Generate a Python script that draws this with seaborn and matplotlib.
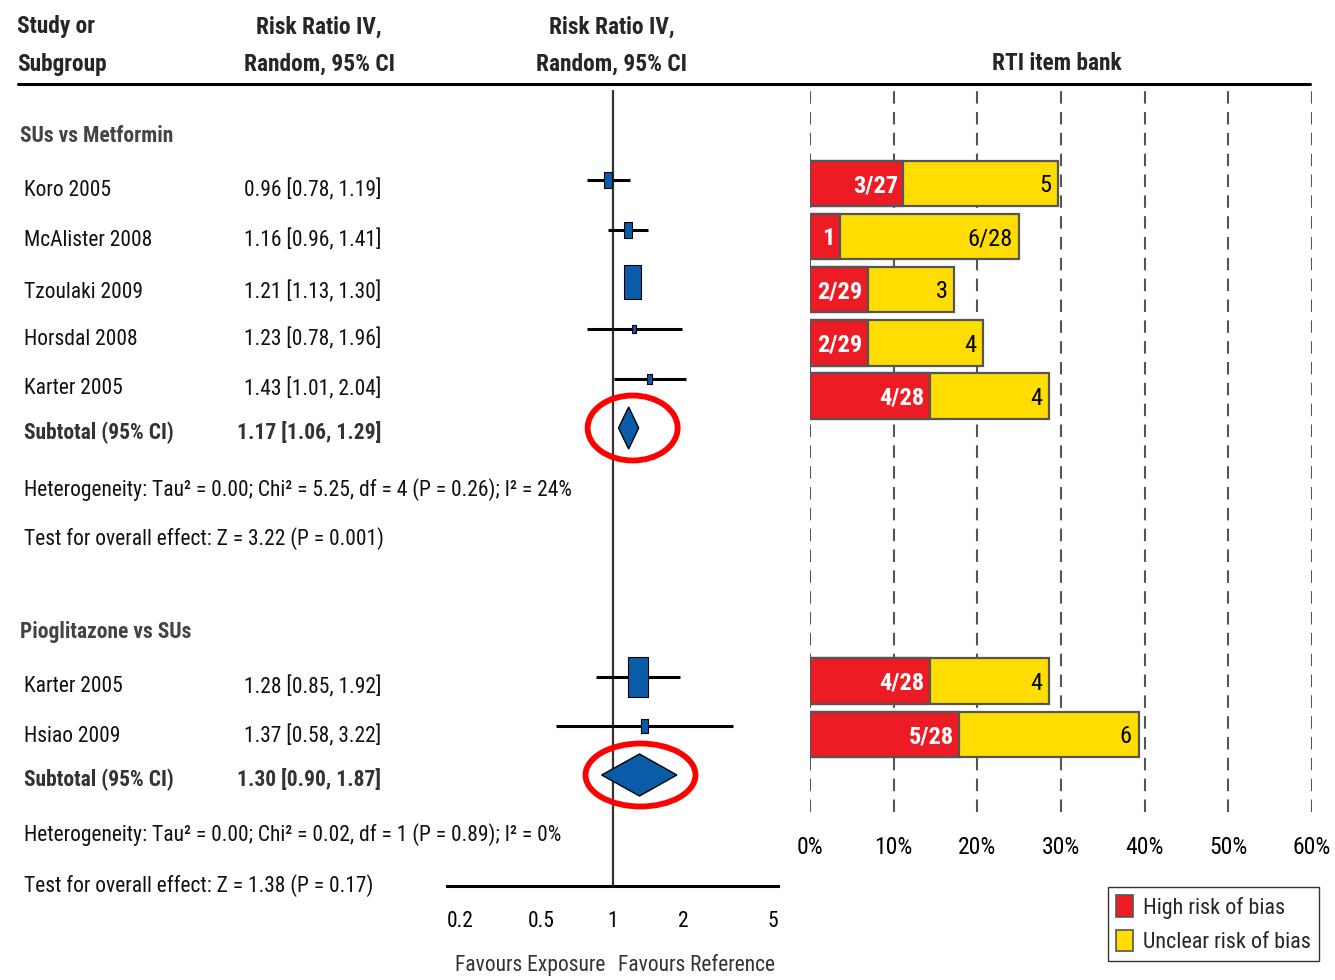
import os
import matplotlib
matplotlib.use("Agg")
import matplotlib.pyplot as plt
from matplotlib import font_manager
from matplotlib.font_manager import FontProperties
from matplotlib.path import Path
from matplotlib.patches import Ellipse, Patch, Polygon
from matplotlib.lines import Line2D
from matplotlib.transforms import ScaledTranslation, Affine2D
import numpy as np
import pandas as pd
import seaborn as sns

# ---------------------------------------------------------------- data
group_titles = ["SUs vs Metformin", "Pioglitazone vs SUs"]
study_group = [0, 0, 0, 0, 0, 1, 1]
studies = ["Koro 2005", "McAlister 2008", "Tzoulaki 2009", "Horsdal 2008",
           "Karter 2005", "Karter 2005", "Hsiao 2009"]
rr = [0.96, 1.16, 1.21, 1.23, 1.43, 1.28, 1.37]
rr_lo = [0.78, 0.96, 1.13, 0.78, 1.01, 0.85, 0.58]
rr_hi = [1.19, 1.41, 1.30, 1.96, 2.04, 1.92, 3.22]
weight_pct = [14, 13, 63, 4, 6, 89, 11]

subtotal_rr = [1.17, 1.30]
subtotal_lo = [1.06, 0.90]
subtotal_hi = [1.29, 1.87]
heterogeneity = [
    "Heterogeneity: Tau² = 0.00; Chi² = 5.25, df = 4 (P = 0.26); I² = 24%",
    "Heterogeneity: Tau² = 0.00; Chi² = 0.02, df = 1 (P = 0.89); I² = 0%",
]
overall_effect = [
    "Test for overall effect: Z = 3.22 (P = 0.001)",
    "Test for overall effect: Z = 1.38 (P = 0.17)",
]
rr_ticks = [0.2, 0.5, 1, 2, 5]
rr_tick_labels = ["0.2", "0.5", "1", "2", "5"]

# RTI item bank: items rated high / unclear risk out of the items applicable
n_items = [27, 28, 29, 29, 28, 28, 28]
n_high = [3, 1, 2, 2, 4, 4, 5]
n_unclear = [5, 6, 3, 4, 4, 4, 6]
high_labels = ["3/27", "1", "2/29", "2/29", "4/28", "4/28", "5/28"]
unclear_labels = ["5", "6/28", "3", "4", "4", "4", "6"]
pct_ticks = [0, 10, 20, 30, 40, 50, 60]

# ---------------------------------------------------------------- fonts
sns.set_style("white")
plt.rcParams["font.family"] = ["Liberation Sans", "DejaVu Sans"]

_files = {}
for _f in font_manager.fontManager.ttflist:
    _files.setdefault(os.path.basename(_f.fname), _f.fname)


def _find(prefixes):
    for p in prefixes:
        for base in sorted(_files):
            if base.lower().startswith(p.lower()):
                return _files[base]
    return None


NARROW_SETS = [
    ("LiberationSansNarrow-Regular", "LiberationSansNarrow-Bold."),
    ("NotoSans-ExtraCondensed.", "NotoSans-ExtraCondensedBold."),
    ("RobotoCondensed-Regular", "RobotoCondensed-Bold."),
    ("NotoSans-Condensed.", "NotoSans-CondensedBold."),
    ("DejaVuSansCondensed.", "DejaVuSansCondensed-Bold."),
]
REG_FILE = BOLD_FILE = None
for reg, bold in NARROW_SETS:
    r, b = _find([reg]), _find([bold])
    if r:
        REG_FILE, BOLD_FILE = r, (b or r)
        break


def fp(size, bold=False):
    path = BOLD_FILE if bold else REG_FILE
    if path:
        return FontProperties(fname=path, size=size)
    return FontProperties(family=["Liberation Sans", "DejaVu Sans"], size=size,
                          weight="bold" if bold else "normal")


BLUE = "#0B5CA8"
RED = "#ED1C24"
YELLOW = "#FFDD00"
DARK = "#333333"

W, H = 1335, 980
fig = plt.figure(figsize=(W / 100, H / 100), dpi=100)
fig.patch.set_facecolor("white")
renderer = fig.canvas.get_renderer()

# base font size: the heterogeneity line spans its column width
_probe = fig.text(0, 0, heterogeneity[0], fontproperties=fp(20))
_w = _probe.get_window_extent(renderer).width
_probe.remove()
BASE = 20 * 528 / _w
FS = BASE * 1.04
FS_HEAD = BASE * 1.13
FS_BAR = BASE * 1.18
FS_PCT = BASE * 1.14
FS_LEG = BASE * 1.07


def fx(px):
    return px / W


def fy(py):
    return 1 - py / H


def ftext(px, py, s, bold=False, size=None, **kw):
    kw.setdefault("va", "center")
    return fig.text(fx(px), fy(py + 2), s, fontproperties=fp(size or FS, bold), **kw)


# ---------------------------------------------------------------- header
ftext(17, 25, "Study or", bold=True, size=FS_HEAD)
ftext(17, 62, "Subgroup", bold=True, size=FS_HEAD)
for cx in (319, 612):
    ftext(cx, 25, "Risk Ratio IV,", bold=True, size=FS_HEAD, ha="center")
    ftext(cx, 62, "Random, 95% CI", bold=True, size=FS_HEAD, ha="center")
ftext(1057, 62, "RTI item bank", bold=True, size=FS_HEAD, ha="center")
fig.add_artist(Line2D([fx(18), fx(1310)], [fy(84), fy(84)], color="black",
                      lw=2.2, transform=fig.transFigure))

# ---------------------------------------------------------------- layout (pixel rows)
heading_y = [134, 630]
marker_y = [180, 230, 282, 329, 379, 677, 726]
subtotal_y = [428, 775]
het_y = [488, 833]
test_y = [537, 884]
text_drop = 8

# ---------------------------------------------------------------- forest plot
ax_f = fig.add_axes([fx(447), fy(886), fx(778) - fx(447), (886 - 85) / H])
ax_f.set_xscale("log")
ax_f.set_xlim(0.2, 5)
ax_f.set_ylim(886, 85)
for s in ("top", "left", "right"):
    ax_f.spines[s].set_visible(False)
ax_f.spines["bottom"].set_linewidth(2.2)
ax_f.spines["bottom"].set_color("black")
ax_f.set_yticks([])
ax_f.set_xticks(rr_ticks)
ax_f.set_xticklabels(rr_tick_labels)
ax_f.xaxis.set_minor_locator(matplotlib.ticker.NullLocator())
ax_f.tick_params(axis="x", direction="inout", length=16.5, width=2.2,
                 pad=10, colors="black")
_tl = ax_f.get_xticklabels()
for lbl in _tl:
    lbl.set_fontproperties(fp(FS))
_tl[0].set_horizontalalignment("left")
_tl[-1].set_horizontalalignment("right")
ax_f.patch.set_alpha(0)

ax_f.vlines(1, 90, 886, color=DARK, lw=1.6, zorder=1)
ax_f.hlines(marker_y, rr_lo, rr_hi, color="black", lw=2.2, zorder=2)

box = Path([(-0.25, -0.5), (0.25, -0.5), (0.25, 0.5), (-0.25, 0.5), (-0.25, -0.5)],
           [Path.MOVETO, Path.LINETO, Path.LINETO, Path.LINETO, Path.CLOSEPOLY])
forest_df = pd.DataFrame({"rr": rr, "y": marker_y, "w": weight_pct})
sns.scatterplot(data=forest_df, x="rr", y="y", marker=box,
                s=forest_df["w"].to_numpy() * 9.6, color=BLUE,
                edgecolor="black", linewidth=0.8, legend=False, zorder=3, ax=ax_f)
ax_f.set_xlabel("")
ax_f.set_ylabel("")

half_h = 21
ellipse_px = [(4, 90, 65), (1, 110, 63)]
for g in range(2):
    y0 = subtotal_y[g]
    ax_f.add_patch(Polygon([(subtotal_lo[g], y0), (subtotal_rr[g], y0 - half_h),
                            (subtotal_hi[g], y0), (subtotal_rr[g], y0 + half_h)],
                           closed=True, facecolor=BLUE, edgecolor="black", lw=1, zorder=3))
    dx, ew, eh = ellipse_px[g]
    tr = fig.dpi_scale_trans + ScaledTranslation(subtotal_rr[g], y0, ax_f.transData) \
        + Affine2D().translate(dx, 0)
    ax_f.add_patch(Ellipse((0, 0), ew / 100, eh / 100, transform=tr, fill=False,
                           edgecolor="#FF0000", lw=4.2, zorder=4, clip_on=False))

ftext(530, 963, "Favours Exposure", ha="center", color=DARK)
ftext(697, 963, "Favours Reference", ha="center", color=DARK)

# ---------------------------------------------------------------- left columns
for g in range(2):
    ftext(20, heading_y[g], group_titles[g], bold=True, color="#444444")
    idx = [i for i, sg in enumerate(study_group) if sg == g]
    for i in idx:
        ty = marker_y[i] + text_drop
        ftext(24, ty, studies[i], color="#111111")
        ftext(381, ty, f"{rr[i]:.2f} [{rr_lo[i]:.2f}, {rr_hi[i]:.2f}]",
              ha="right", color="#111111")
    ftext(24, subtotal_y[g] + 3, "Subtotal (95% CI)", bold=True, color=DARK)
    ftext(381, subtotal_y[g] + 3,
          f"{subtotal_rr[g]:.2f} [{subtotal_lo[g]:.2f}, {subtotal_hi[g]:.2f}]",
          bold=True, ha="right", color=DARK)
    ftext(24, het_y[g], heterogeneity[g], color="#111111")
    ftext(24, test_y[g], overall_effect[g], color="#111111")

# ---------------------------------------------------------------- RTI item bank bars
bar_y = [183.5, 236.5, 289.5, 343, 396, 681, 734.5]
ax_b = fig.add_axes([fx(810), fy(812), fx(1312) - fx(810), (812 - 88) / H])
bias = pd.DataFrame({
    "y": bar_y,
    "high": 100 * np.array(n_high) / np.array(n_items),
    "unclear": 100 * np.array(n_unclear) / np.array(n_items),
})
bias["total"] = bias["high"] + bias["unclear"]

sns.barplot(data=bias, x="total", y="y", orient="y", native_scale=True,
            color=YELLOW, saturation=1, edgecolor="#555555", linewidth=1.6,
            errorbar=None, width=0.85, ax=ax_b, zorder=2)
sns.barplot(data=bias, x="high", y="y", orient="y", native_scale=True,
            color=RED, saturation=1, edgecolor="#555555", linewidth=1.6,
            errorbar=None, width=0.85, ax=ax_b, zorder=3)

for yv, h, t, hl, ul in zip(bias["y"], bias["high"], bias["total"],
                            high_labels, unclear_labels):
    ax_b.text(h - 0.6, yv + 2, hl, ha="right", va="center", color="white",
              fontproperties=fp(FS_BAR, True), zorder=4)
    ax_b.text(t - 0.8, yv + 2, ul, ha="right", va="center", color="black",
              fontproperties=fp(FS_BAR), zorder=4)

ax_b.set_xlim(0, 60)
ax_b.set_ylim(812, 88)
ax_b.set_xticks(pct_ticks)
ax_b.set_xticklabels([f"{p}%" for p in pct_ticks])
for lbl in ax_b.get_xticklabels():
    lbl.set_fontproperties(fp(FS_PCT))
ax_b.set_yticks([])
ax_b.set_xlabel("")
ax_b.set_ylabel("")
for s in ax_b.spines.values():
    s.set_visible(False)
ax_b.set_axisbelow(True)
ax_b.grid(axis="x", color="#555555", lw=1.5, linestyle=(0, (6, 4)))
ax_b.grid(axis="y", visible=False)
ax_b.tick_params(axis="x", length=0, pad=17, colors="black")
ax_b.patch.set_alpha(0)

handles = [Patch(facecolor=RED, edgecolor="#555555", lw=1.2),
           Patch(facecolor=YELLOW, edgecolor="#555555", lw=1.2)]
leg = fig.legend(handles, ["High risk of bias", "Unclear risk of bias"],
                 loc="upper left", bbox_to_anchor=(fx(1108), fy(887)),
                 frameon=True, fancybox=False, edgecolor="black", prop=fp(FS_LEG),
                 handlelength=0.75, handleheight=1.1, handletextpad=0.45,
                 borderpad=0.38, labelspacing=0.5, borderaxespad=0)
leg.get_frame().set_linewidth(1.0)

fig.savefig("out.png", dpi=100, facecolor="white")
